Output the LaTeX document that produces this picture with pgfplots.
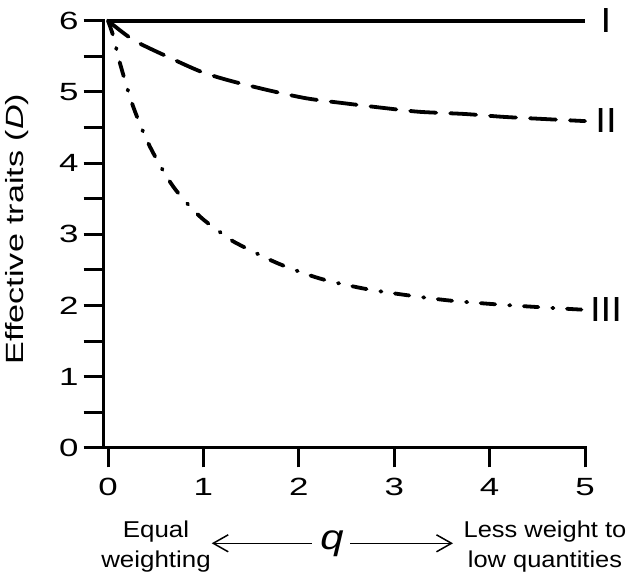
\documentclass[border=0pt]{standalone}
\usepackage{fontspec}
\setmainfont{Liberation Sans}
\usepackage{pgfplots}
\pgfplotsset{compat=1.18}
\usetikzlibrary{arrows.meta}
\begin{document}
\begin{tikzpicture}[x=1bp,y=1bp]
\useasboundingbox (0,0) rectangle (631,576);
\begin{axis}[
  at={(103bp,128bp)}, anchor=south west,
  scale only axis, width=482bp, height=427.3bp,
  xmin=-0.0524, xmax=5, ymin=0, ymax=6,
  axis x line=bottom, axis y line=left,
  axis line style={-, line width=3bp, line cap=rect, black},
  xtick={0,1,2,3,4,5}, ytick={0,1,2,3,4,5,6},
  minor ytick={0.5,1.5,2.5,3.5,4.5,5.5},
  tick align=outside,
  major tick length=19.5bp, minor tick length=19.5bp,
  tick style={black, line width=3bp},
  /pgf/number format/assume math mode=true,
  tick label style={font=\fontsize{25}{30}\selectfont, xscale=1.4},
  xticklabel style={yshift=-7.5bp},
  ylabel={Effective traits (\textit{D})},
  ylabel style={at={(axis description cs:-0.1654,0.5125)}, anchor=base, font=\fontsize{25}{30}\selectfont, xscale=1.37},
  clip=false,
]
\addplot[black, line width=3.8bp] coordinates {(0,6) (5,6)};
\addplot[black, line width=3.8bp, smooth, line cap=round, dash pattern=on 26bp off 14bp] coordinates {
(0,6) (0.265,5.73) (0.615,5.50) (0.964,5.29) (1.244,5.17) (1.66,5.03) (2.08,4.91) (2.48,4.84) (2.92,4.77) (3.27,4.72) (3.74,4.69) (4.14,4.65) (4.56,4.62) (5,4.59)};
\addplot[black, line width=3.8bp, smooth, line cap=round, dash pattern=on 14.5bp off 14bp on 1.2bp off 13.5bp] coordinates {
(0,6) (0.056,5.78) (0.126,5.40) (0.265,4.79) (0.44,4.23) (0.684,3.67) (0.964,3.25) (1.26,2.95) (1.384,2.85) (1.785,2.59) (2.22,2.38) (2.676,2.24) (3.11,2.15) (3.585,2.07) (4.04,2.02) (4.49,1.98) (5,1.94)};
\end{axis}
\node[inner sep=0, font=\fontsize{35}{40}\selectfont, xscale=1.1] at (606,555.3) {I};
\node[inner sep=0, font=\fontsize{35}{40}\selectfont, xscale=1.1] at (606,455) {II};
\node[inner sep=0, font=\fontsize{35}{40}\selectfont, xscale=1.1] at (606,266.5) {III};
\draw[line width=1.5bp, -{Straight Barb[length=15bp,width=17bp]}] (311.7,32.7) -- (211.7,32.7);
\draw[line width=1.5bp, -{Straight Barb[length=15bp,width=17bp]}] (350,32.7) -- (453,32.7);
\node[inner sep=0, anchor=base, font=\fontsize{35}{40}\selectfont\itshape, xscale=1.2] at (332,26) {q};
\node[inner sep=0, anchor=base, font=\fontsize{23}{27}\selectfont, xscale=1.13] at (156,38) {Equal};
\node[inner sep=0, anchor=base, font=\fontsize{23}{27}\selectfont, xscale=1.13] at (156,8) {weighting};
\node[inner sep=0, anchor=base, font=\fontsize{23}{27}\selectfont, xscale=1.11] at (545,38) {Less weight to};
\node[inner sep=0, anchor=base, font=\fontsize{23}{27}\selectfont, xscale=1.11] at (545,8) {low quantities};
\end{tikzpicture}
\end{document}
